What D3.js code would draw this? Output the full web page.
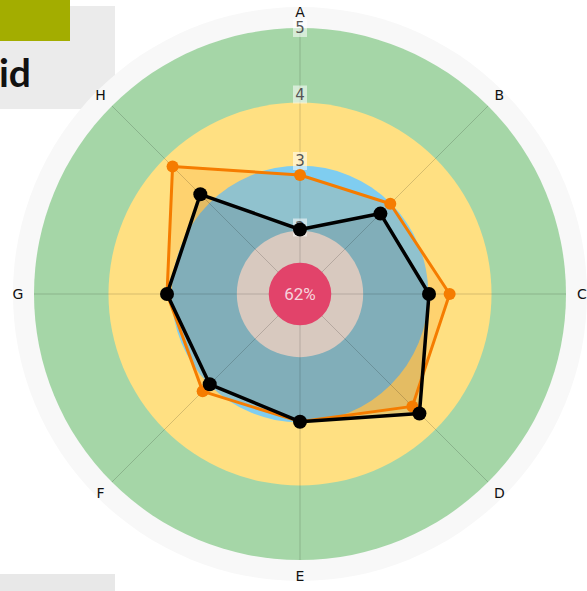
<!DOCTYPE html>
<html>
<head>
<meta charset="utf-8">
<script src="https://cdn.jsdelivr.net/npm/d3@7"></script>
<style>
  body { margin: 0; background: white; overflow: hidden; }
  svg { display: block; font-family: "DejaVu Sans", sans-serif; }
</style>
</head>
<body>
<svg id="chart" width="587" height="591"></svg>
<script>
// axes of the radar, clockwise from the top
const axes = ["A", "B", "C", "D", "E", "F", "G", "H"];
// two series, values on a 1..5 scale
const orangeValues = [2.79, 2.92, 3.25, 3.39, 2.92, 3.07, 3.0, 3.71];
const blackValues = [1.97, 2.71, 2.94, 3.54, 2.92, 2.92, 3.0, 3.12];
// radial tick labels shown along axis A
const tickValues = [2, 3, 4, 5];
// background bands (outer edge in value units)
const bandEdges = [5, 3.88, 2.93];
const bandColors = ["#a5d6a7", "#ffe082", "#7fcdf0"];
const centerBands = [1.95, 1.47];
const centerText = "62%";

const layout = { width: 587, height: 591, cx: 300, cy: 294, r: 266 };

const svg = d3.select("#chart");

// page decorations (title box clipped at the left edge)
svg.append("rect").attr("x", 0).attr("y", 6).attr("width", 115).attr("height", 103).attr("fill", "#ebebeb");
svg.append("rect").attr("x", 0).attr("y", 0).attr("width", 70).attr("height", 41).attr("fill", "#a3ad00");
svg.append("text")
  .attr("x", 31).attr("y", 87)
  .attr("text-anchor", "end")
  .attr("font-family", "Lato, sans-serif")
  .attr("font-weight", "bold")
  .attr("font-size", 39)
  .attr("fill", "#111")
  .text("id");
svg.append("rect").attr("x", 0).attr("y", 574).attr("width", 115).attr("height", 17).attr("fill", "#e8e8e8");

const g = svg.append("g").attr("transform", `translate(${layout.cx},${layout.cy})`);

// scales
const rScale = d3.scaleLinear().domain([1, 5]).range([0, layout.r]);
const angle = d3.scalePoint().domain(axes).range([0, 2 * Math.PI * (axes.length - 1) / axes.length]);

// outer pale ring
g.append("circle").attr("r", 287).attr("fill", "#f8f8f8");

g.selectAll(".band")
  .data(bandEdges)
  .join("circle")
  .attr("r", (d) => rScale(d))
  .attr("fill", (d, i) => bandColors[i]);

const radarLine = d3.lineRadial()
  .angle((d, i) => angle(axes[i]))
  .radius((d) => rScale(d))
  .curve(d3.curveLinearClosed);

// polygon fills
g.append("path").attr("d", radarLine(orangeValues)).attr("fill", "rgba(245,124,0,0.14)");
g.append("path").attr("d", radarLine(blackValues)).attr("fill", "rgba(0,0,0,0.1)");

// beige inner disc
g.append("circle").attr("r", rScale(centerBands[0])).attr("fill", "#d8c9bf");

// spokes
g.selectAll(".spoke")
  .data(axes)
  .join("line")
  .attr("x1", 0).attr("y1", 0)
  .attr("x2", (d) => rScale(5) * Math.sin(angle(d)))
  .attr("y2", (d) => -rScale(5) * Math.cos(angle(d)))
  .attr("stroke", "rgba(0,0,0,0.16)")
  .attr("stroke-width", 1);

// tick labels on axis A
const ticks = g.selectAll(".tick")
  .data(tickValues)
  .join("g")
  .attr("transform", (d) => `translate(0,${-rScale(d)})`);
ticks.append("rect")
  .attr("x", -7).attr("y", -9).attr("width", 14).attr("height", 18)
  .attr("fill", "rgba(255,255,255,0.55)");
ticks.append("text")
  .attr("text-anchor", "middle")
  .attr("dy", "0.36em")
  .attr("font-size", 15)
  .attr("fill", "#555")
  .text((d) => d);

// axis labels
g.selectAll(".axis-label")
  .data(axes)
  .join("text")
  .attr("x", (d) => 282 * Math.sin(angle(d)))
  .attr("y", (d) => -282 * Math.cos(angle(d)))
  .attr("text-anchor", "middle")
  .attr("dy", "0.36em")
  .attr("font-size", 14)
  .attr("fill", "#111")
  .text((d) => d);

// series strokes and points
const series = [
  { values: orangeValues, color: "#f57c00", width: 3, dot: 6 },
  { values: blackValues, color: "#000", width: 3.5, dot: 7 },
];
series.forEach((s) => {
  g.append("path")
    .attr("d", radarLine(s.values))
    .attr("fill", "none")
    .attr("stroke", s.color)
    .attr("stroke-width", s.width)
    .attr("stroke-linejoin", "round");
  g.selectAll(null)
    .data(s.values)
    .join("circle")
    .attr("cx", (d, i) => rScale(d) * Math.sin(angle(axes[i])))
    .attr("cy", (d, i) => -rScale(d) * Math.cos(angle(axes[i])))
    .attr("r", s.dot)
    .attr("fill", s.color);
});

// red core + label
g.append("circle").attr("r", rScale(centerBands[1])).attr("fill", "#e2436a");
g.append("text")
  .attr("text-anchor", "middle")
  .attr("dy", "0.36em")
  .attr("font-family", "Roboto, sans-serif")
  .attr("font-size", 17)
  .attr("fill", "#f6d3dc")
  .text(centerText);
</script>
</body>
</html>
